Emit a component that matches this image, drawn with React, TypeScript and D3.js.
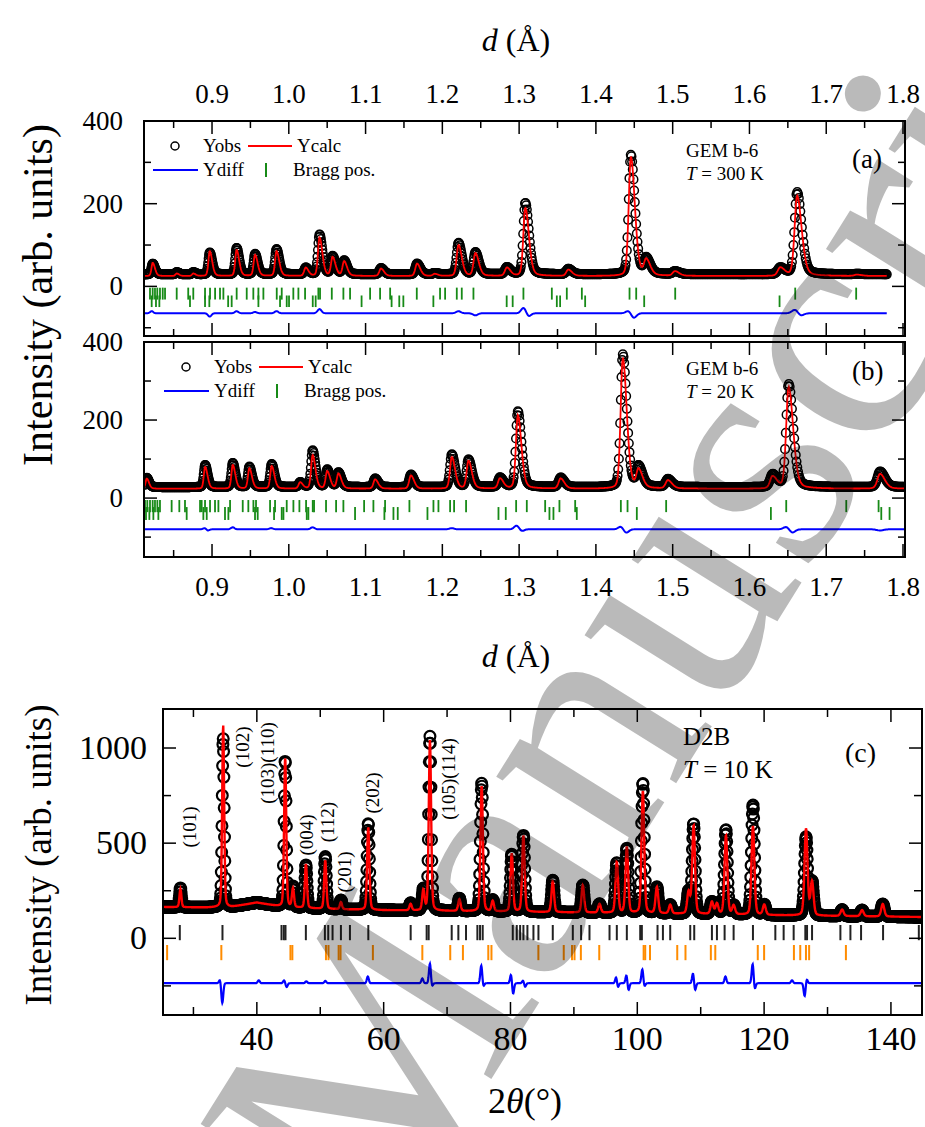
import React from "react"
import * as d3 from "d3"

// ---------- (a) GEM bank 6, T = 300 K (peak tops) ----------
const aPeakD = [0.8227, 0.854, 0.8756, 0.897, 0.932, 0.956, 0.984, 1.022, 1.04, 1.057, 1.072, 1.12, 1.167, 1.19, 1.221, 1.243, 1.284, 1.308, 1.364, 1.4455, 1.4655, 1.503, 1.64, 1.662, 1.74]
const aPeakObs = [55, 34, 34, 82, 93, 78, 90, 45, 125, 72, 62, 44, 55, 32, 105, 82, 46, 202, 42, 318, 65, 36, 45, 228, 30]
const aPeakCalc = [57, 31, 31, 85, 88, 76, 85, 45, 118, 70, 60, 43, 55, 30, 100, 80, 45, 190, 40, 314, 62, 36, 45, 219, 28]
const aBgObs = 29
const aBgCalc = 25
const aBraggUpper = [0.8192, 0.8227, 0.8257, 0.8287, 0.8322, 0.8358, 0.8388, 0.854, 0.869, 0.8756, 0.8909, 0.8974, 0.904, 0.9104, 0.9148, 0.9321, 0.9452, 0.9538, 0.9604, 0.9669, 0.9843, 0.9908, 1.0059, 1.0125, 1.0212, 1.0385, 1.0407, 1.056, 1.0711, 1.0798, 1.1059, 1.1189, 1.132, 1.1667, 1.197, 1.2036, 1.2188, 1.2253, 1.2405, 1.3056, 1.3426, 1.3621, 1.3817, 1.4438, 1.4525, 1.5033, 1.6596, 1.739]
const aBraggLower = [0.8214, 0.827, 0.8314, 0.8713, 0.8909, 0.8965, 0.921, 0.9256, 0.9604, 0.9886, 0.9973, 1.0003, 1.0312, 1.035, 1.0948, 1.1339, 1.1439, 1.1492, 1.1883, 1.2838, 1.2916, 1.3491, 1.3534, 1.386, 1.4629, 1.6392]
const aDiffD = [0.8214, 0.897, 0.932, 0.956, 0.984, 1.04, 1.221, 1.243, 1.306, 1.312, 1.443, 1.449, 1.66, 1.666]
const aDiffAmp = [5, -8, 5, 3, 5, 10, 5, -5, 14, -8, 7, -12, 10, -7]
const aDiffBase = -65

// ---------- (b) GEM bank 6, T = 20 K ----------
const bPeakD = [0.815, 0.891, 0.927, 0.9486, 0.9777, 1.0147, 1.031, 1.05, 1.0646, 1.1124, 1.159, 1.2123, 1.234, 1.275, 1.2983, 1.354, 1.435, 1.4555, 1.4937, 1.63, 1.651, 1.77]
const bPeakObs = [52, 85, 90, 80, 87, 40, 122, 72, 65, 50, 60, 112, 98, 52, 222, 52, 368, 78, 48, 60, 292, 68]
const bPeakCalc = [50, 80, 85, 76, 82, 40, 110, 68, 62, 48, 58, 105, 95, 50, 212, 50, 360, 70, 45, 55, 285, 62]
const bBgObs = 28
const bBgCalc = 24
const bBraggUpper = [0.8127, 0.8157, 0.8192, 0.8227, 0.8257, 0.8288, 0.8322, 0.8474, 0.8574, 0.8648, 0.8844, 0.8865, 0.8909, 0.8974, 0.9039, 0.9083, 0.9235, 0.94, 0.9473, 0.9539, 0.9573, 0.9756, 0.9821, 0.9973, 1.006, 1.0138, 1.0225, 1.0312, 1.0329, 1.0485, 1.0616, 1.0711, 1.0981, 1.1102, 1.1254, 1.1571, 1.1884, 1.1949, 1.2101, 1.2153, 1.2309, 1.2961, 1.31, 1.3339, 1.3525, 1.373, 1.4325, 1.4412, 1.4915, 1.6479, 1.7261, 1.7682]
const bBraggLower = [0.814, 0.8184, 0.8236, 0.8301, 0.867, 0.8887, 0.8931, 0.9169, 0.9213, 0.956, 0.9595, 0.9808, 0.9908, 0.993, 1.0234, 1.0255, 1.0863, 1.1245, 1.1363, 1.1419, 1.1806, 1.2731, 1.2826, 1.3395, 1.3447, 1.3751, 1.4533, 1.6279, 1.7717, 1.7825]
const bDiffD = [0.891, 0.894, 0.927, 0.977, 1.031, 1.2123, 1.297, 1.303, 1.433, 1.439, 1.649, 1.655, 1.77]
const bDiffAmp = [4, -4, 5, 3, 5, 3, 10, -5, 8, -10, 8, -10, -3]
const bDiffBase = -80

// ---------- (c) D2B, T = 10 K ----------
const cPeak2T = [27.95, 34.69, 44.47, 45.7, 47.74, 50.79, 53.26, 57.57, 64.25, 66.26, 67.3, 71.94, 75.46, 77.2, 80.2, 82.04, 86.67, 91.41, 94.04, 96.77, 98.35, 100.88, 103.09, 105.2, 108.09, 108.88, 111.77, 112.56, 113.98, 115.2, 118.24, 120.03, 126.61, 127.56, 132.3, 135.45, 138.71]
const cPeakObs = [265, 1050, 935, 270, 385, 430, 200, 605, 185, 255, 1060, 210, 815, 200, 440, 540, 305, 280, 180, 395, 470, 815, 268, 175, 240, 600, 190, 180, 570, 170, 700, 175, 530, 295, 150, 148, 180]
const cPeakCalc = [260, 1120, 950, 260, 390, 410, 190, 585, 180, 250, 1040, 205, 800, 195, 445, 540, 300, 278, 180, 400, 479, 775, 268, 175, 240, 592, 190, 180, 540, 170, 590, 175, 575, 295, 150, 148, 180]
const cBg2T = [25, 32, 36, 40, 44, 50, 60, 80, 100, 120, 145]
const cBgI = [165, 162, 165, 188, 165, 155, 148, 140, 132, 122, 112]
const cBraggBlack = [27.85, 34.58, 43.89, 44.26, 44.52, 47.73, 50.73, 51.26, 51.94, 53.26, 54.68, 57.58, 64.26, 66.78, 67.1, 70.73, 71.78, 72.99, 74.78, 75.2, 75.62, 80.36, 80.99, 81.52, 82.04, 82.67, 83.62, 84.41, 86.67, 89.83, 91.14, 92.46, 95.62, 96.77, 98.35, 100.46, 100.72, 103.19, 104.04, 105.19, 108.35, 108.98, 111.77, 112.56, 113.77, 115.19, 118.24, 121.77, 123.08, 124.66, 126.5, 126.77, 127.56, 132.03, 133.61, 135.29, 138.76, 144.4]
const cBraggOrange = [25.85, 34.4, 45.3, 45.6, 50.9, 51.3, 52.9, 53.2, 58.3, 66.1, 70.5, 72.5, 76.5, 77.0, 84.4, 88.4, 89.7, 90.1, 91.1, 94.0, 101.0, 101.25, 102.0, 106.3, 107.6, 111.6, 112.3, 119.0, 120.0, 124.7, 125.7, 126.6, 127.1, 132.9]
const cDiff2T = [34.2, 34.55, 40.3, 44.3, 44.7, 47.8, 50.8, 57.5, 66.1, 67.3, 67.6, 75.4, 75.7, 80.1, 80.4, 82.0, 82.3, 96.7, 96.9, 98.3, 98.6, 100.8, 101.1, 108.8, 109.1, 113.9, 118.2, 118.5, 124.4, 126.4, 126.7]
const cDiffAmp = [20, -105, 15, 15, -20, 10, 12, 35, 25, 105, -20, 95, -20, 50, -60, 15, -20, 40, -30, 45, -40, 75, -20, 55, -40, 35, 105, -35, 15, -70, 25]
const cDiffBase = -236
const hklLabels = ["(101)", "(102)", "(103)(110)", "(004)", "(112)", "(201)", "(202)", "(105)(114)"]

// ---------- ticks ----------
const dTickLabels = ["0.9", "1.0", "1.1", "1.2", "1.3", "1.4", "1.5", "1.6", "1.7", "1.8"]
const dMinorTicks = [0.85, 0.95, 1.05, 1.15, 1.25, 1.35, 1.45, 1.55, 1.65, 1.75]
const gemIntensityTicks = [0, 200, 400]
const gemIntensityMinor = [-100, 100, 300]
const thetaTickLabels = ["40", "60", "80", "100", "120", "140"]
const thetaMinorTicks = [30, 50, 70, 90, 110, 130]
const d2bIntensityTicks = [0, 500, 1000]
const d2bIntensityMinor = [-250, 250, 750]

// ---------- layout ----------
const W = 925
const H = 1127
const SERIF = "'Liberation Serif', 'Times New Roman', serif"
const boxA = { left: 144, right: 905, top: 121, bottom: 336 }
const boxB = { left: 144, right: 905, top: 342, bottom: 557 }
const boxC = { left: 163, right: 922, top: 709, bottom: 1015 }
const dDomain = [0.8114, 1.8026]
const hklPlace = [[29.4, 585], [37.8, 1005], [41.7, 921], [47.9, 543], [51.2, 611], [53.9, 349], [58.3, 764], [70.15, 837]]

type Box = { left: number; right: number; top: number; bottom: number }

const peakShape = (dx: number, w: number, asym: number) => {
  const ww = w * (dx < 0 ? 1 - asym : 1 + asym)
  const t = (dx / ww) * (dx / ww)
  return 0.25 / (1 + 4 * t) + 0.75 * Math.exp(-2.7726 * t)
}

function profile(xs: number[], pos: number[], tops: number[], bg: (v: number) => number, fwhm: (v: number) => number, asym: number) {
  return xs.map((x) => {
    let y = bg(x)
    for (let i = 0; i < pos.length; i++) {
      const w = fwhm(pos[i])
      const dx = x - pos[i]
      if (Math.abs(dx) < 15 * w) y += (tops[i] - bg(pos[i])) * peakShape(dx, w, asym)
    }
    return y
  })
}

function diffCurve(xs: number[], base: number, pos: number[], amp: number[], width: (v: number) => number) {
  return xs.map((x) => {
    let y = base
    for (let i = 0; i < pos.length; i++) {
      const t = (x - pos[i]) / width(pos[i])
      y += amp[i] * Math.exp(-t * t)
    }
    return y
  })
}

const geomGrid = (lo: number, hi: number, r: number) => {
  const xs: number[] = []
  for (let v = lo; v <= hi; v *= r) xs.push(v)
  return xs
}

function tickLines(box: Box, x: any, y: any, xMajor: number[], xMinor: number[], yMajor: number[], yMinor: number[], big: number, small: number) {
  const out: number[][] = []
  const addX = (v: number, len: number) => {
    const px = x(v)
    out.push([px, box.bottom, px, box.bottom - len], [px, box.top, px, box.top + len])
  }
  const addY = (v: number, len: number) => {
    const py = y(v)
    out.push([box.left, py, box.left + len, py], [box.right, py, box.right - len, py])
  }
  xMajor.forEach((v) => addX(v, big))
  xMinor.forEach((v) => addX(v, small))
  yMajor.forEach((v) => addY(v, big))
  yMinor.forEach((v) => addY(v, small))
  return out
}

function GemPanel(props: any) {
  const { id, box, yDomain, hi, peakD, peakObs, peakCalc, bgObs, bgCalc, braggUpper, braggLower, upper, lower, diffD, diffAmp, diffBase, tag, temp, legendDx, noteDy, tagDy, topLabels } = props
  const x = d3.scaleLinear().domain(dDomain).range([box.left, box.right])
  const y = d3.scaleLinear().domain(yDomain).range([box.bottom, box.top])
  const xs = geomGrid(0.8122, hi, 1.0006)
  const fw = (d: number) => 0.0065 * d
  const obs = profile(xs, peakD, peakObs, () => bgObs, fw, 0.3)
  const calc = profile(xs, peakD, peakCalc, () => bgCalc, fw, 0.3)
  const diff = diffCurve(xs, diffBase, diffD, diffAmp, (d) => 0.0035 * d)
  const line = d3.line<number>().x((_, i) => x(xs[i])).y((v) => y(v))
  const ticks = tickLines(box, x, y, dTickLabels.map(Number), dMinorTicks, gemIntensityTicks, gemIntensityMinor, 13, 7)
  const lx = box.left + legendDx
  const ly = box.top
  return (
    <g fontFamily={SERIF}>
      <clipPath id={id}>
        <rect x={box.left} y={box.top} width={box.right - box.left} height={box.bottom - box.top} />
      </clipPath>
      <g clipPath={`url(#${id})`}>
        {braggUpper.map((d: number, i: number) => (
          <line key={"u" + i} x1={x(d)} x2={x(d)} y1={y(upper[0])} y2={y(upper[1])} stroke="#178a17" strokeWidth={1.8} />
        ))}
        {braggLower.map((d: number, i: number) => (
          <line key={"l" + i} x1={x(d)} x2={x(d)} y1={y(lower[0])} y2={y(lower[1])} stroke="#178a17" strokeWidth={1.8} />
        ))}
        <path d={line(diff) ?? ""} fill="none" stroke="#0000ff" strokeWidth={2} />
        {obs.map((v, i) => (
          <circle key={i} cx={x(xs[i])} cy={y(v)} r={4.3} fill="none" stroke="#000" strokeWidth={1.5} />
        ))}
        <path d={line(calc) ?? ""} fill="none" stroke="#ff0000" strokeWidth={1.8} />
      </g>
      <rect x={box.left} y={box.top} width={box.right - box.left} height={box.bottom - box.top} fill="none" stroke="#000" strokeWidth={2} />
      {ticks.map((t, i) => (
        <line key={"t" + i} x1={t[0]} y1={t[1]} x2={t[2]} y2={t[3]} stroke="#000" strokeWidth={1.5} />
      ))}
      {dTickLabels.map((s) => (
        <text key={s} x={x(+s)} y={topLabels ? box.top - 18 : box.bottom + 39} textAnchor="middle" fontSize={27}>
          {s}
        </text>
      ))}
      {gemIntensityTicks.map((v) => (
        <text key={v} x={box.left - 21} y={y(v) + 9} textAnchor="end" fontSize={27}>
          {v}
        </text>
      ))}
      {/* legend */}
      <circle cx={lx + 31} cy={ly + 25} r={4} fill="none" stroke="#000" strokeWidth={1.5} />
      <text x={lx + 59} y={ly + 31} fontSize={19}>Yobs</text>
      <line x1={lx + 104} x2={lx + 148} y1={ly + 25} y2={ly + 25} stroke="#ff0000" strokeWidth={1.8} />
      <text x={lx + 153} y={ly + 31} fontSize={19}>Ycalc</text>
      <line x1={lx + 9} x2={lx + 54} y1={ly + 49} y2={ly + 49} stroke="#0000ff" strokeWidth={2} />
      <text x={lx + 59} y={ly + 55} fontSize={19}>Ydiff</text>
      <line x1={lx + 122} x2={lx + 122} y1={ly + 42} y2={ly + 56} stroke="#178a17" strokeWidth={2} />
      <text x={lx + 149} y={ly + 55} fontSize={19}>Bragg pos.</text>
      <text x={686} y={box.top + noteDy} fontSize={19}>GEM b-6</text>
      <text x={686} y={box.top + noteDy + 23} fontSize={19}>
        <tspan fontStyle="italic">T</tspan> = {temp}
      </text>
      <text x={852} y={box.top + tagDy} fontSize={27}>{tag}</text>
    </g>
  )
}

function D2bPanel() {
  const box = boxC
  const x = d3.scaleLinear().domain([25.2, 144.9]).range([box.left, box.right])
  const y = d3.scaleLinear().domain([-403, 1205]).range([box.bottom, box.top])
  const bgScale = d3.scaleLinear().domain(cBg2T).range(cBgI)
  const bg = (t: number) => bgScale(t)
  const xs = d3.range(25.2, 144.9, 0.05)
  const fw = (t: number) => 0.35 + 0.002 * (t - 25)
  const obs = profile(xs, cPeak2T, cPeakObs, bg, fw, 0)
  const calc = profile(xs, cPeak2T, cPeakCalc, bg, fw, 0)
  const diff = diffCurve(xs, cDiffBase, cDiff2T, cDiffAmp, () => 0.22)
  const line = d3.line<number>().x((_, i) => x(xs[i])).y((v) => y(v))
  const ticks = tickLines(box, x, y, thetaTickLabels.map(Number), thetaMinorTicks, d2bIntensityTicks, d2bIntensityMinor, 13, 8)
  return (
    <g fontFamily={SERIF}>
      <clipPath id="clipC">
        <rect x={box.left} y={box.top} width={box.right - box.left} height={box.bottom - box.top} />
      </clipPath>
      <g clipPath="url(#clipC)">
        {cBraggBlack.map((t, i) => (
          <line key={"k" + i} x1={x(t)} x2={x(t)} y1={y(70)} y2={y(-10)} stroke="#222" strokeWidth={2} />
        ))}
        {cBraggOrange.map((t, i) => (
          <line key={"o" + i} x1={x(t)} x2={x(t)} y1={y(-35)} y2={y(-115)} stroke="#ff8c00" strokeWidth={2} />
        ))}
        <path d={line(diff) ?? ""} fill="none" stroke="#0000ff" strokeWidth={2.2} />
        {obs.map((v, i) => (
          <circle key={i} cx={x(xs[i])} cy={y(v)} r={5.4} fill="none" stroke="#000" strokeWidth={2.2} />
        ))}
        <path d={line(calc) ?? ""} fill="none" stroke="#ff0000" strokeWidth={2.4} />
      </g>
      <rect x={box.left} y={box.top} width={box.right - box.left} height={box.bottom - box.top} fill="none" stroke="#000" strokeWidth={2} />
      {ticks.map((t, i) => (
        <line key={"t" + i} x1={t[0]} y1={t[1]} x2={t[2]} y2={t[3]} stroke="#000" strokeWidth={1.5} />
      ))}
      {thetaTickLabels.map((s) => (
        <text key={s} x={x(+s)} y={1050} textAnchor="middle" fontSize={34}>{s}</text>
      ))}
      {d2bIntensityTicks.map((v) => (
        <text key={v} x={147} y={y(v) + 11} textAnchor="end" fontSize={34}>{v}</text>
      ))}
      {hklLabels.map((s, i) => {
        const px = x(hklPlace[i][0])
        const py = y(hklPlace[i][1])
        return (
          <text key={s} x={px} y={py} transform={`rotate(-90 ${px} ${py})`} textAnchor="middle" dominantBaseline="central" fontSize={19}>
            {s}
          </text>
        )
      })}
      <text x={683} y={745} fontSize={25}>D2B</text>
      <text x={683} y={778} fontSize={25}>
        <tspan fontStyle="italic">T</tspan> = 10 K
      </text>
      <text x={845} y={762} fontSize={28}>(c)</text>
    </g>
  )
}

export default function App() {
  const wm = { x: -341, y: 2411 }
  return (
    <svg width={W} height={H} style={{ position: "absolute", left: 0, top: 0 }} xmlns="http://www.w3.org/2000/svg">
      <rect width={W} height={H} fill="#fff" />
      <GemPanel
        id="clipA" box={boxA} yDomain={[-120, 400]} hi={1.779}
        peakD={aPeakD} peakObs={aPeakObs} peakCalc={aPeakCalc} bgObs={aBgObs} bgCalc={aBgCalc}
        braggUpper={aBraggUpper} braggLower={aBraggLower} upper={[-3, -32]} lower={[-22, -50]}
        diffD={aDiffD} diffAmp={aDiffAmp} diffBase={aDiffBase}
        tag="(a)" temp="300 K" legendDx={0} noteDy={36} tagDy={47} topLabels
      />
      <GemPanel
        id="clipB" box={boxB} yDomain={[-151, 400]} hi={1.806}
        peakD={bPeakD} peakObs={bPeakObs} peakCalc={bPeakCalc} bgObs={bBgObs} bgCalc={bBgCalc}
        braggUpper={bBraggUpper} braggLower={bBraggLower} upper={[-5, -36]} lower={[-23, -56]}
        diffD={bDiffD} diffAmp={bDiffAmp} diffBase={bDiffBase}
        tag="(b)" temp="20 K" legendDx={11} noteDy={33} tagDy={38} topLabels={false}
      />
      <D2bPanel />
      <g fontFamily={SERIF}>
        <text x={516} y={51} textAnchor="middle" fontSize={32}>
          <tspan fontStyle="italic">d</tspan> (Å)
        </text>
        <text x={516} y={667} textAnchor="middle" fontSize={32}>
          <tspan fontStyle="italic">d</tspan> (Å)
        </text>
        <text x={525} y={1113} textAnchor="middle" fontSize={36}>
          2<tspan fontStyle="italic">θ</tspan>(°)
        </text>
        <text x={38} y={295} transform="rotate(-90 38 295)" textAnchor="middle" dominantBaseline="central" fontSize={42}>
          Intensity (arb. units)
        </text>
        <text x={38} y={855} transform="rotate(-90 38 855)" textAnchor="middle" dominantBaseline="central" fontSize={37}>
          Intensity (arb. units)
        </text>
      </g>
      <text
        x={wm.x} y={wm.y} transform={`rotate(-58 ${wm.x} ${wm.y})`}
        fontFamily={SERIF} fontSize={340}
        fill="#000" fillOpacity={0.27}
      >
        Accepted Manuscript
      </text>
    </svg>
  )
}
